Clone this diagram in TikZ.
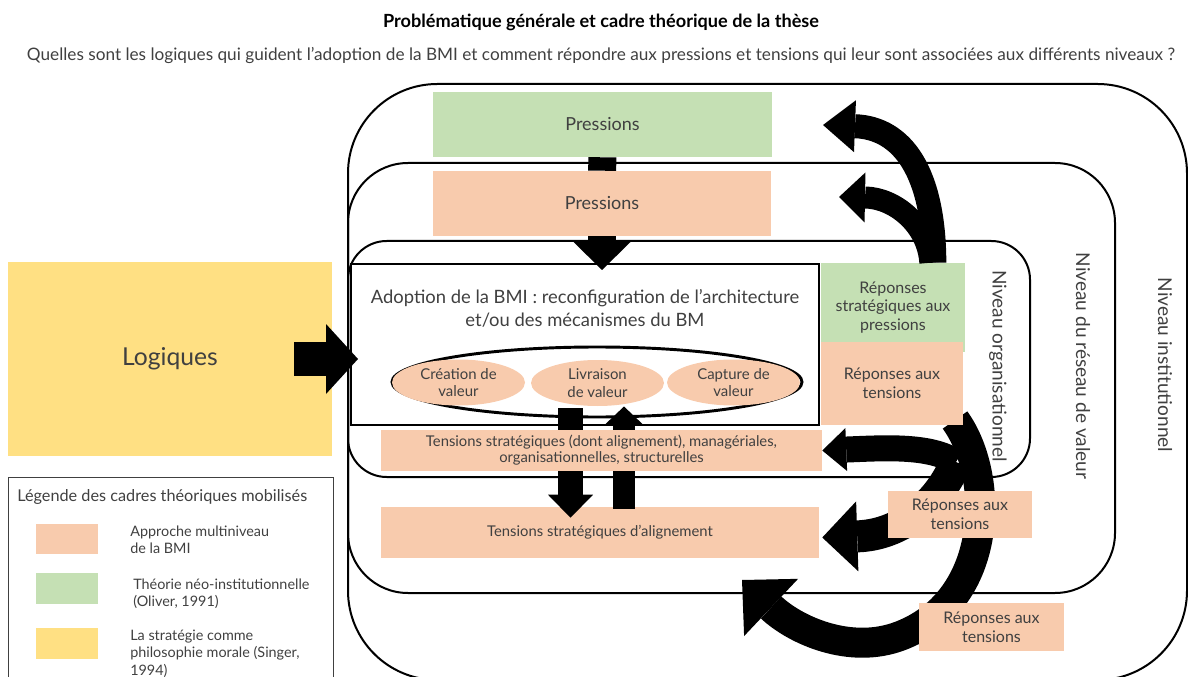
\documentclass[tikz,border=0pt]{standalone}
\usepackage{fontspec}
\setmainfont{Lato}
\usetikzlibrary{arrows.meta,shapes.geometric}

\definecolor{vert}{HTML}{C5E0B4}
\definecolor{peche}{HTML}{F8CBAD}
\definecolor{jaune}{HTML}{FFE083}
\definecolor{gris}{HTML}{404040}

\newcommand{\taille}[2]{\fontsize{#1}{#2}\selectfont}

\tikzset{
  niveau/.style={draw, line width=1.5pt, rounded corners=#1},
  dim/.style 2 args={minimum width=#1*0.75pt, minimum height=#2*0.75pt},
  boite/.style={fill=#1, text=gris, align=center, inner sep=0pt},
  lvl/.style={rotate=-90, text=gris, font=\taille{14.3pt}{17pt}},
  valeur/.style={ellipse, fill=peche, text=gris, align=center, inner sep=0pt, dim={133}{46}, font=\taille{11.2pt}{13pt}},
  reponse/.style={boite=#1, font=\taille{12pt}{14pt}},
  tensbox/.style={boite=peche, font=\taille{11.1pt}{12pt}},
  legtxt/.style={anchor=west, align=left, inner sep=0pt, text=gris, font=\taille{10.8pt}{13pt}},
  bloc/.style={line width=#1*0.75pt},
  pointe/.style 2 args={-{Triangle[length=#1, width=#2, line width=0pt]}},
}

\begin{document}
\begin{tikzpicture}[x=0.75pt, y=-0.75pt]
\useasboundingbox (0,0) rectangle (1188,677);

% titre et question
\node[font=\bfseries\taille{13.6pt}{16pt}, text=black] (titre) at (601,22) {Problématique générale et cadre théorique de la thèse};
\node[font=\taille{12.9pt}{15pt}, text=gris] (question) at (601,55) {Quelles sont les logiques qui guident l’adoption de la BMI et comment répondre aux pressions et tensions qui leur sont associées aux différents niveaux ?};

% les trois niveaux
\draw[niveau=67pt] (348,84) rectangle (1187,680);
\draw[niveau=45pt] (348,163) rectangle (1115,593);
\draw[niveau=29pt] (348,241) rectangle (1030,477);
\node[lvl] (ninst) at (1165,365) {Niveau institutionnel};
\node[lvl] (nres) at (1083,366) {Niveau du réseau de valeur};
\node[lvl] (norg) at (998,366) {Niveau organisationnel};

% logiques
\node[boite=jaune, dim={324}{194}, font=\taille{18.5pt}{22pt}] (logiq) at (170,359) {Logiques};

% adoption de la BMI
\node[draw, line width=1.5pt, dim={468}{161}] (adopt) at (585,344.5) {};
\node[font=\taille{13.8pt}{17pt}, text=gris, align=center] (adtxt) at (585,308.5) {Adoption de la BMI : reconfiguration de l’architecture\\et/ou des mécanismes du BM};
\node[draw, ellipse, line width=2.2pt, dim={410}{70}, inner sep=0pt] (anneau) at (597,382) {};
\node[valeur] (creation) at (458.5,382.5) {Création de\\valeur};
\node[valeur] (livraison) at (597.5,383) {Livraison\\de valeur};
\node[valeur] (capture) at (733.5,382.5) {Capture de\\valeur};

\draw[bloc=34, pointe={24pt}{52.5pt}] ([xshift=-28.5pt]logiq.east) -- ([xshift=6pt]logiq.east -| adopt.west);

% tensions
\node[tensbox, dim={438}{51}] (talign) at (600,532.5) {Tensions stratégiques d’alignement};
\draw[bloc=25, pointe={17.25pt}{33.75pt}] ([shift={(-14.5,-18)}]adopt.south) -- ([shift={(-14.5,11)}]adopt.south |- talign.north);
\draw[bloc=22, pointe={13.5pt}{28.5pt}] ([shift={(39,2)}]adopt.south |- talign.north) -- ([shift={(39,-19.5)}]adopt.south);
\node[tensbox, dim={441}{41}] (ttens) at (601.5,450.5) {Tensions stratégiques (dont alignement), managériales,\\organisationnelles, structurelles};

% pressions
\node[boite=vert, dim={339}{65}, font=\taille{13.5pt}{16pt}] (pinst) at (602.5,124.5) {Pressions};
\node[boite=peche, dim={338}{65}, font=\taille{13.5pt}{16pt}] (preseau) at (602,203.5) {Pressions};
\draw[bloc=28] (pinst) -- (preseau);
\draw[bloc=28, pointe={21pt}{42.75pt}] (preseau) -- ([yshift=-5.25pt]preseau |- adopt.north);

% reponses
\coordinate (tipA) at (823,125);
\coordinate (tipB) at (839,197);
\coordinate (tourb) at (956,462);
\coordinate (tipE) at (742,580);
\node[reponse=vert, dim={144}{89}] (rstrat) at (893,307.5) {Réponses\\stratégiques aux\\pressions};
\draw[bloc=24, pointe={24pt}{39pt}] ([xshift=31pt]rstrat.north) .. controls (934,173) and (903,128) .. (tipA);
\draw[bloc=22, pointe={19.5pt}{37.5pt}] ([xshift=28pt]rstrat.north) .. controls (928,225) and (895,198) .. (tipB);
\draw[bloc=30, pointe={30pt}{59pt}] (955,420) .. controls (995,475) and (995,600) .. (900,636) .. controls (850,655) and (795,630) .. (tipE);
\draw[bloc=26, pointe={18pt}{32.25pt}] (tourb) .. controls (930,445) and (885,448) .. (ttens.east);
\draw[bloc=32, pointe={26.25pt}{52.5pt}] (tourb) .. controls (938,505) and (900,535) .. ([shift={(3,5)}]talign.east);
\node[reponse=peche, dim={142}{83}] (rtens) at (892,383.5) {Réponses aux\\tensions};
\node[reponse=peche, dim={144}{47}] (rtens2) at (960,514.5) {Réponses aux\\tensions};
\node[reponse=peche, dim={145}{48}] (rtens3) at (991.5,627) {Réponses aux\\tensions};

% legende
\node[draw=gris, line width=0.75pt, dim={325}{230}, anchor=north west, inner sep=0pt] (legende) at (8,477) {};
\node[anchor=west, inner sep=0pt, text=gris, font=\taille{12.2pt}{14pt}] (legtitre) at (17,497) {Légende des cadres théoriques mobilisés};
\node[boite=peche, dim={62}{30}] (cpeche) at (67,539) {};
\node[boite=vert, dim={62}{31}] (cvert) at (67,588.5) {};
\node[boite=jaune, dim={62}{31}] (cjaune) at (67,643.5) {};
\node[legtxt] (lpeche) at (130,539.5) {Approche multiniveau\\de la BMI};
\node[legtxt] (lvert) at (133,594) {Théorie néo-institutionnelle\\(Oliver, 1991)};
\node[legtxt] (ljaune) at (130,653.5) {La stratégie comme\\philosophie morale (Singer,\\1994)};
\end{tikzpicture}
\end{document}
